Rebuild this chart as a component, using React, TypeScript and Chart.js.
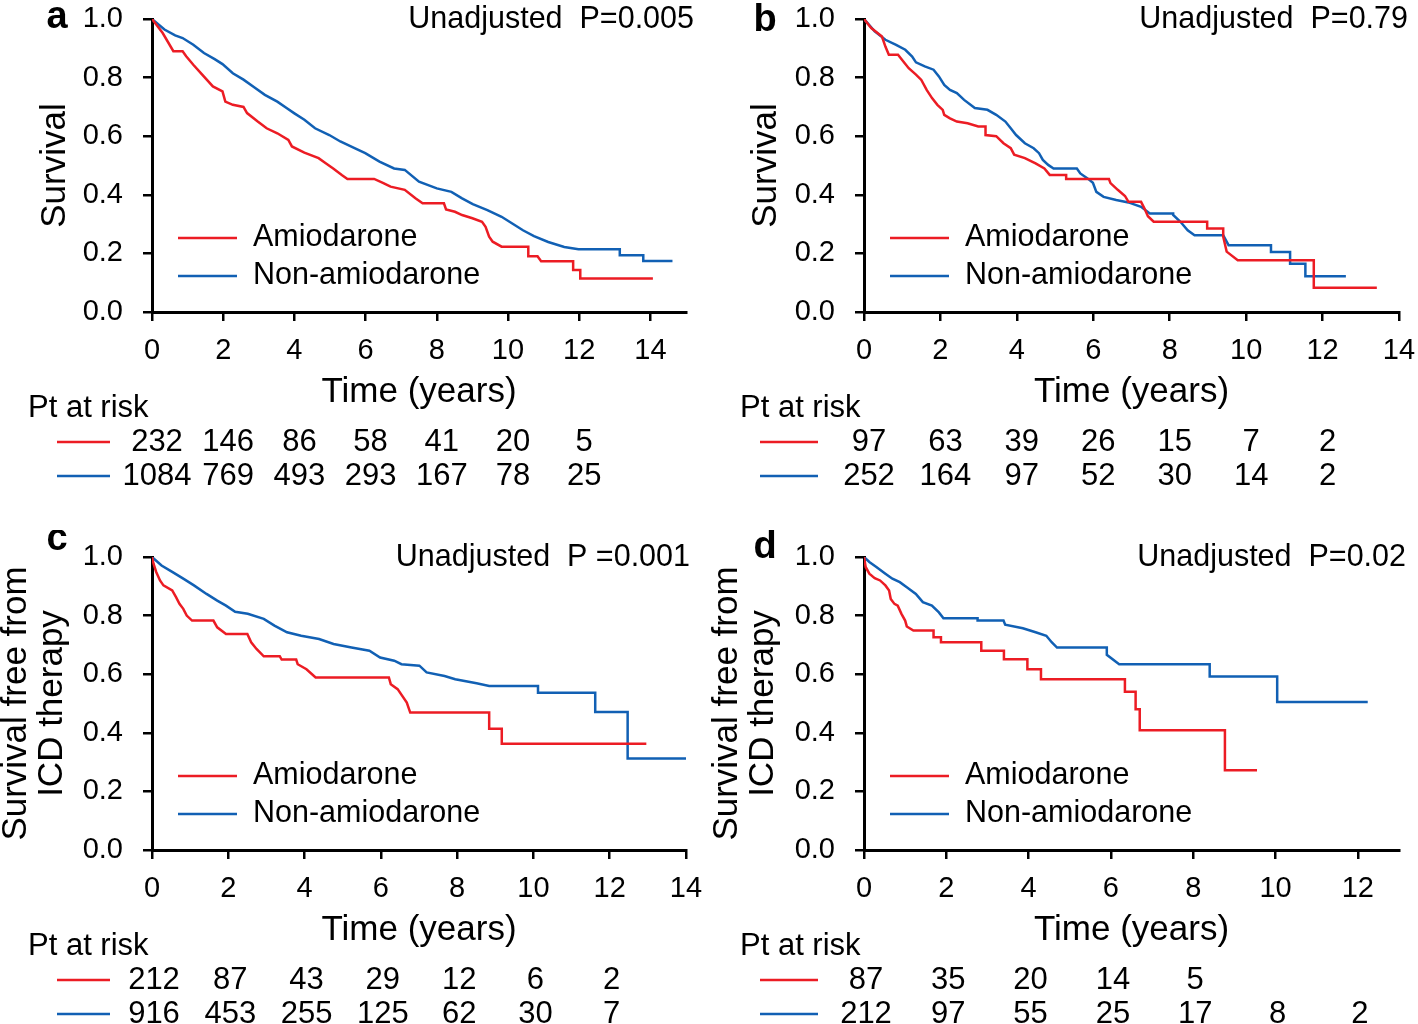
import React, { useEffect, useRef } from "react";
import { Chart, registerables } from "chart.js";

Chart.register(...registerables);

const FONT = "'Liberation Sans', Arial, Helvetica, sans-serif";
const RED = "#ec1c24";
const BLUE = "#1160b4";

type Pt = [number, number];

// ---------- shared ----------
const legendLabels = ["Amiodarone", "Non-amiodarone"];
const xTicks14 = [0, 2, 4, 6, 8, 10, 12, 14];
const xTicks12 = [0, 2, 4, 6, 8, 10, 12];
const yTicks = [0, 0.2, 0.4, 0.6, 0.8, 1.0];
const riskTimes = [0, 2, 4, 6, 8, 10, 12];

// ---------- panel a : survival, all patients ----------
const aAmiodarone: Pt[] = [
  [0, 1], [0.3, 0.952], [0.6, 0.89], [0.86, 0.89], [0.96, 0.873], [1.16, 0.844], [1.41, 0.81],
  [1.71, 0.77], [1.98, 0.753], [2.06, 0.718], [2.27, 0.707], [2.57, 0.7], [2.67, 0.679],
  [2.97, 0.65], [3.22, 0.627], [3.52, 0.61], [3.83, 0.587], [3.93, 0.565], [4.28, 0.544],
  [4.68, 0.525], [4.88, 0.508], [5.09, 0.49], [5.34, 0.467], [5.49, 0.454], [6.24, 0.454],
  [6.5, 0.44], [6.7, 0.428], [7.1, 0.417], [7.4, 0.388], [7.6, 0.371], [8.2, 0.371],
  [8.26, 0.35], [8.51, 0.342], [8.71, 0.331], [9.0, 0.32], [9.27, 0.308], [9.37, 0.291],
  [9.47, 0.257], [9.57, 0.24], [9.82, 0.223], [10.57, 0.223], [10.57, 0.19], [10.83, 0.19],
  [10.93, 0.173], [11.83, 0.173], [11.83, 0.143], [12.03, 0.143], [12.03, 0.114], [14.07, 0.114],
];
const aNonAmiodarone: Pt[] = [
  [0, 1], [0.35, 0.964], [0.65, 0.944], [0.86, 0.935], [1.16, 0.912], [1.46, 0.884],
  [1.76, 0.863], [1.98, 0.846], [2.27, 0.815], [2.57, 0.793], [2.87, 0.767], [3.17, 0.741],
  [3.52, 0.718], [3.78, 0.696], [4.0, 0.678], [4.28, 0.656], [4.58, 0.627], [4.98, 0.604],
  [5.29, 0.582], [5.69, 0.559], [5.99, 0.542], [6.39, 0.513], [6.8, 0.49], [7.1, 0.485],
  [7.5, 0.445], [8.0, 0.422], [8.41, 0.41], [8.71, 0.388], [9.01, 0.368], [9.42, 0.348],
  [9.82, 0.325], [10.12, 0.302], [10.42, 0.279], [10.73, 0.259], [11.13, 0.239],
  [11.58, 0.222], [11.98, 0.214], [13.14, 0.214], [13.14, 0.194], [13.8, 0.194],
  [13.8, 0.174], [14.62, 0.174],
];
const aRiskAmiodarone = [232, 146, 86, 58, 41, 20, 5];
const aRiskNon = [1084, 769, 493, 293, 167, 78, 25];

// ---------- panel b ----------
const bAmiodarone: Pt[] = [
  [0, 1], [0.19, 0.969], [0.47, 0.94], [0.56, 0.906], [0.65, 0.878], [0.89, 0.878],
  [1.03, 0.855], [1.17, 0.832], [1.36, 0.81], [1.5, 0.792], [1.64, 0.758], [1.78, 0.73],
  [1.92, 0.707], [2.06, 0.69], [2.1, 0.673], [2.25, 0.661], [2.43, 0.65], [2.71, 0.644],
  [2.99, 0.633], [3.18, 0.633], [3.18, 0.604], [3.46, 0.6], [3.65, 0.576], [3.84, 0.559],
  [3.93, 0.537], [4.21, 0.525], [4.49, 0.507], [4.72, 0.49], [4.86, 0.468], [5.29, 0.468],
  [5.29, 0.454], [6.41, 0.454], [6.45, 0.44], [6.64, 0.417], [6.83, 0.396], [6.92, 0.376],
  [7.25, 0.376], [7.34, 0.353], [7.43, 0.327], [7.58, 0.308], [8.98, 0.308], [8.98, 0.285],
  [9.4, 0.285], [9.4, 0.257], [9.49, 0.206], [9.78, 0.177], [11.77, 0.177], [11.77, 0.083],
  [13.42, 0.083],
];
const bNonAmiodarone: Pt[] = [
  [0, 1], [0.28, 0.958], [0.56, 0.929], [0.84, 0.912], [1.08, 0.895], [1.26, 0.872],
  [1.36, 0.852], [1.59, 0.838], [1.82, 0.827], [1.96, 0.804], [2.1, 0.775], [2.25, 0.758],
  [2.43, 0.747], [2.62, 0.724], [2.9, 0.696], [3.23, 0.69], [3.46, 0.673], [3.7, 0.65],
  [3.84, 0.627], [3.98, 0.604], [4.21, 0.576], [4.44, 0.559], [4.58, 0.542], [4.68, 0.519],
  [4.82, 0.502], [4.96, 0.49], [5.57, 0.49], [5.66, 0.473], [5.85, 0.456], [5.99, 0.441],
  [6.08, 0.41], [6.27, 0.393], [6.6, 0.382], [6.92, 0.374], [7.25, 0.359], [7.48, 0.336],
  [8.09, 0.336], [8.09, 0.331], [8.28, 0.308], [8.47, 0.279], [8.65, 0.262], [9.4, 0.262],
  [9.54, 0.228], [10.65, 0.228], [10.65, 0.205], [11.15, 0.205], [11.15, 0.165],
  [11.55, 0.165], [11.55, 0.122], [12.61, 0.122],
];
const bRiskAmiodarone = [97, 63, 39, 26, 15, 7, 2];
const bRiskNon = [252, 164, 97, 52, 30, 14, 2];

// ---------- panel c : survival free from ICD therapy ----------
const cAmiodarone: Pt[] = [
  [0, 1], [0.04, 0.977], [0.11, 0.949], [0.21, 0.92], [0.3, 0.903], [0.53, 0.886],
  [0.63, 0.863], [0.72, 0.84], [0.82, 0.823], [0.91, 0.8], [1.05, 0.783], [1.61, 0.783],
  [1.71, 0.76], [1.94, 0.737], [2.5, 0.737], [2.6, 0.709], [2.74, 0.686], [2.93, 0.661],
  [3.35, 0.661], [3.4, 0.65], [3.78, 0.65], [3.82, 0.634], [4.05, 0.617], [4.29, 0.589],
  [6.21, 0.589], [6.26, 0.566], [6.44, 0.549], [6.68, 0.503], [6.77, 0.469], [8.84, 0.469],
  [8.84, 0.414], [9.17, 0.414], [9.17, 0.363], [12.96, 0.363],
];
const cNonAmiodarone: Pt[] = [
  [0, 1], [0.25, 0.971], [0.53, 0.949], [0.82, 0.926], [1.1, 0.903], [1.43, 0.874],
  [1.71, 0.851], [1.94, 0.834], [2.18, 0.813], [2.51, 0.806], [2.93, 0.789], [3.21, 0.766],
  [3.54, 0.743], [3.91, 0.731], [4.38, 0.72], [4.76, 0.703], [5.23, 0.691], [5.7, 0.68],
  [5.98, 0.657], [6.35, 0.646], [6.54, 0.634], [7.01, 0.629], [7.2, 0.606], [7.67, 0.594],
  [7.95, 0.583], [8.51, 0.569], [8.84, 0.56], [10.12, 0.56], [10.12, 0.537], [11.62, 0.537],
  [11.62, 0.471], [12.47, 0.471], [12.47, 0.312], [14.0, 0.312],
];
const cRiskAmiodarone = [212, 87, 43, 29, 12, 6, 2];
const cRiskNon = [916, 453, 255, 125, 62, 30, 7];

// ---------- panel d ----------
const dAmiodarone: Pt[] = [
  [0, 1], [0.04, 0.966], [0.13, 0.943], [0.26, 0.928], [0.39, 0.92], [0.52, 0.903],
  [0.61, 0.886], [0.65, 0.857], [0.74, 0.84], [0.82, 0.834], [0.91, 0.806], [1.0, 0.783],
  [1.04, 0.763], [1.2, 0.749], [1.69, 0.749], [1.69, 0.726], [1.87, 0.726], [1.87, 0.709],
  [2.85, 0.709], [2.85, 0.68], [3.4, 0.68], [3.4, 0.651], [3.97, 0.651], [3.97, 0.617],
  [4.3, 0.617], [4.3, 0.583], [6.34, 0.583], [6.34, 0.54], [6.6, 0.54], [6.6, 0.48],
  [6.7, 0.48], [6.7, 0.409], [8.77, 0.409], [8.77, 0.272], [9.55, 0.272],
];
const dNonAmiodarone: Pt[] = [
  [0, 1], [0.13, 0.983], [0.3, 0.966], [0.52, 0.943], [0.69, 0.926], [0.87, 0.914],
  [1.04, 0.897], [1.26, 0.874], [1.43, 0.846], [1.65, 0.834], [1.82, 0.811], [1.93, 0.791],
  [2.76, 0.791], [2.76, 0.783], [3.39, 0.783], [3.43, 0.769], [3.86, 0.757], [4.17, 0.743],
  [4.43, 0.731], [4.56, 0.709], [4.69, 0.691], [5.9, 0.691], [5.9, 0.666], [6.2, 0.634],
  [8.4, 0.634], [8.4, 0.592], [10.04, 0.592], [10.04, 0.505], [12.24, 0.505],
];
const dRiskAmiodarone = [87, 35, 20, 14, 5];
const dRiskNon = [212, 97, 55, 25, 17, 8, 2];

// ---------- panel configuration ----------
type PanelCfg = {
  letter: string;
  pText: string;
  yTitle: string[];
  yTitleX: number[];
  xMax: number;
  xTicks: number[];
  amio: Pt[];
  non: Pt[];
  riskAmio: number[];
  riskNon: number[];
  left: number;
  top: number;
  w: number;
  h: number;
  area: { left: number; right: number; top: number; bottom: number };
  letterX: number;
  letterY: number;
  pRight: number;
  riskLabelX: number;
  riskLineX: [number, number];
  riskShift: number;
};

const panels: PanelCfg[] = [
  {
    letter: "a", pText: "Unadjusted  P=0.005", yTitle: ["Survival"], yTitleX: [55],
    xMax: 15, xTicks: xTicks14, amio: aAmiodarone, non: aNonAmiodarone,
    riskAmio: aRiskAmiodarone, riskNon: aRiskNon,
    left: 0, top: 0, w: 709, h: 530,
    area: { left: 152, right: 686, top: 19, bottom: 312 },
    letterX: 57, letterY: 28, pRight: 694, riskLabelX: 28, riskLineX: [57, 110], riskShift: 5,
  },
  {
    letter: "b", pText: "Unadjusted  P=0.79", yTitle: ["Survival"], yTitleX: [57],
    xMax: 14, xTicks: xTicks14, amio: bAmiodarone, non: bNonAmiodarone,
    riskAmio: bRiskAmiodarone, riskNon: bRiskNon,
    left: 709, top: 0, w: 709, h: 530,
    area: { left: 155, right: 690, top: 19, bottom: 312 },
    letterX: 56, letterY: 31, pRight: 699, riskLabelX: 31, riskLineX: [51, 109], riskShift: 5,
  },
  {
    letter: "c", pText: "Unadjusted  P =0.001", yTitle: ["Survival free from", "ICD therapy"],
    yTitleX: [16, 52],
    xMax: 14, xTicks: xTicks14, amio: cAmiodarone, non: cNonAmiodarone,
    riskAmio: cRiskAmiodarone, riskNon: cRiskNon,
    left: 0, top: 530, w: 709, h: 494,
    area: { left: 152, right: 686, top: 27, bottom: 320 },
    letterX: 57, letterY: 20, pRight: 690, riskLabelX: 28, riskLineX: [57, 110], riskShift: 2,
  },
  {
    letter: "d", pText: "Unadjusted  P=0.02", yTitle: ["Survival free from", "ICD therapy"],
    yTitleX: [18, 54],
    xMax: 13, xTicks: xTicks12, amio: dAmiodarone, non: dNonAmiodarone,
    riskAmio: dRiskAmiodarone, riskNon: dRiskNon,
    left: 709, top: 530, w: 709, h: 494,
    area: { left: 155, right: 690, top: 27, bottom: 320 },
    letterX: 56, letterY: 28, pRight: 697, riskLabelX: 31, riskLineX: [51, 109], riskShift: 2,
  },
];

const AX_H = 60;

function overlayPlugin(p: PanelCfg) {
  return {
    id: "kmOverlay" + p.letter,
    afterDraw(chart: any) {
      const ctx: CanvasRenderingContext2D = chart.ctx;
      const a = chart.chartArea;
      const xs = chart.scales.x;
      ctx.save();
      ctx.fillStyle = "#000";
      ctx.textBaseline = "alphabetic";

      // panel letter
      ctx.font = `bold 38px ${FONT}`;
      ctx.textAlign = "center";
      ctx.fillText(p.letter, p.letterX, p.letterY);

      // p value
      ctx.font = `30.5px ${FONT}`;
      ctx.textAlign = "right";
      ctx.fillText(p.pText, p.pRight, a.top + 8.5);

      // y title (rotated)
      ctx.font = `35px ${FONT}`;
      ctx.textAlign = "center";
      ctx.textBaseline = "middle";
      const cy = (a.top + a.bottom) / 2;
      p.yTitle.forEach((line, i) => {
        ctx.save();
        ctx.translate(p.yTitleX[i], cy);
        ctx.rotate(-Math.PI / 2);
        ctx.fillText(line, 0, 0);
        ctx.restore();
      });

      // x title
      ctx.font = `35px ${FONT}`;
      ctx.textAlign = "center";
      ctx.fillText("Time (years)", (a.left + a.right) / 2, a.bottom + 80);

      // legend
      const colors = [RED, BLUE];
      ctx.lineWidth = 2.5;
      ctx.font = `30.5px ${FONT}`;
      ctx.textAlign = "left";
      legendLabels.forEach((lab, i) => {
        const y = a.top + 219 + i * 38;
        ctx.strokeStyle = colors[i];
        ctx.beginPath();
        ctx.moveTo(a.left + 26, y);
        ctx.lineTo(a.left + 85, y);
        ctx.stroke();
        ctx.fillText(lab, a.left + 101, y);
      });

      // at-risk table
      ctx.font = `31px ${FONT}`;
      ctx.textAlign = "left";
      ctx.fillText("Pt at risk", p.riskLabelX, a.bottom + 96);
      const rows = [p.riskAmio, p.riskNon];
      rows.forEach((row, i) => {
        const y = a.bottom + 130 + i * 34;
        ctx.strokeStyle = colors[i];
        ctx.beginPath();
        ctx.moveTo(p.riskLineX[0], y);
        ctx.lineTo(p.riskLineX[1], y);
        ctx.stroke();
        ctx.textAlign = "center";
        row.forEach((n, j) => {
          const x = xs.getPixelForValue(riskTimes[j]) + p.riskShift;
          ctx.fillText(String(n), x, y);
        });
      });
      ctx.restore();
    },
  };
}

function zeroPadding(s: any) {
  s.paddingTop = 0;
  s.paddingBottom = 0;
  s.paddingLeft = 0;
  s.paddingRight = 0;
}

function KMPanel({ cfg }: { cfg: PanelCfg }) {
  const ref = useRef<HTMLCanvasElement>(null);
  useEffect(() => {
    const canvas = ref.current;
    if (!canvas) return;
    const { area } = cfg;
    const axisGrid = {
      display: true,
      drawOnChartArea: false,
      drawTicks: true,
      tickLength: 9,
      tickColor: "#000",
      tickWidth: 2.5,
      color: "#000",
      lineWidth: 2.5,
    };
    const chart = new Chart(canvas, {
      type: "line",
      data: {
        datasets: [
          {
            label: legendLabels[0],
            data: cfg.amio.map(([x, y]) => ({ x, y })),
            borderColor: RED,
            borderWidth: 2.5,
            pointRadius: 0,
            fill: false,
            tension: 0,
          },
          {
            label: legendLabels[1],
            data: cfg.non.map(([x, y]) => ({ x, y })),
            borderColor: BLUE,
            borderWidth: 2.5,
            pointRadius: 0,
            fill: false,
            tension: 0,
          },
        ],
      },
      options: {
        animation: false,
        responsive: false,
        maintainAspectRatio: false,
        devicePixelRatio: 1,
        events: [],
        layout: {
          padding: {
            left: 0,
            right: cfg.w - area.right,
            top: area.top,
            bottom: cfg.h - area.bottom - AX_H,
          },
        },
        plugins: {
          legend: { display: false },
          tooltip: { enabled: false },
          title: { display: false },
        },
        scales: {
          x: {
            type: "linear",
            min: 0,
            max: cfg.xMax,
            afterBuildTicks: (s: any) => {
              s.ticks = cfg.xTicks.map((v) => ({ value: v }));
            },
            afterFit: (s: any) => {
              s.height = AX_H;
              zeroPadding(s);
            },
            grid: axisGrid,
            border: { display: true, color: "#000", width: 3 },
            ticks: {
              color: "#000",
              font: { family: FONT, size: 29 },
              padding: 13,
              maxRotation: 0,
              autoSkip: false,
              callback: (v: any) => String(v),
            },
          },
          y: {
            type: "linear",
            min: 0,
            max: 1,
            afterBuildTicks: (s: any) => {
              s.ticks = yTicks.map((v) => ({ value: v }));
            },
            afterFit: (s: any) => {
              s.width = area.left;
              zeroPadding(s);
            },
            grid: axisGrid,
            border: { display: true, color: "#000", width: 3 },
            ticks: {
              color: "#000",
              font: { family: FONT, size: 29 },
              padding: 20,
              autoSkip: false,
              callback: (v: any) => Number(v).toFixed(1),
            },
          },
        },
      } as any,
      plugins: [overlayPlugin(cfg)],
    });
    return () => chart.destroy();
  }, [cfg]);
  return (
    <canvas
      ref={ref}
      width={cfg.w}
      height={cfg.h}
      style={{ position: "absolute", left: cfg.left, top: cfg.top, width: cfg.w, height: cfg.h }}
    />
  );
}

export default function App() {
  return (
    <div
      style={{
        position: "absolute",
        left: 0,
        top: 0,
        width: 1418,
        height: 1024,
        background: "#fff",
        overflow: "hidden",
      }}
    >
      {panels.map((p) => (
        <KMPanel key={p.letter} cfg={p} />
      ))}
    </div>
  );
}
